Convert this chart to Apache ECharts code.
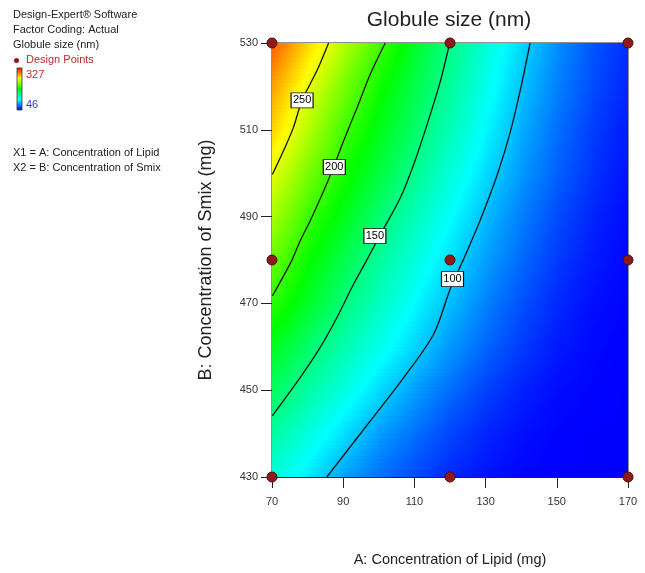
<!DOCTYPE html>
<html>
<head>
<meta charset="utf-8">
<script src="https://cdn.jsdelivr.net/npm/echarts@6/dist/echarts.min.js"></script>
<style>
html, body { margin: 0; padding: 0; background: #fff; }
#chart { width: 645px; height: 573px; }
</style>
</head>
<body>
<div id="chart"></div>
<script>
// factor levels
var lipid = [70, 80, 90, 100, 110, 120, 130, 140, 150, 160, 170];
var smix = [430, 440, 450, 460, 470, 480, 490, 500, 510, 520, 530];
var lipidTicks = [70, 90, 110, 130, 150, 170];
var smixTicks = [430, 450, 470, 490, 510, 530];

// globule size (nm), one row per smix level (430 -> 530)
var globuleSize = [
    [126, 111, 91, 77, 66, 57, 51, 47, 46, 46, 46],
    [143, 126, 108, 90, 77, 65, 56, 50, 47, 46, 46],
    [161, 142, 125, 107, 90, 76, 64, 55, 49, 47, 46],
    [179, 158, 139, 122, 105, 88, 74, 62, 53, 48, 46],
    [199, 176, 153, 134, 116, 98, 82, 68, 57, 50, 47],
    [215, 189, 166, 144, 126, 108, 90, 75, 62, 53, 48],
    [233, 203, 180, 156, 136, 117, 98, 81, 67, 56, 49],
    [250, 220, 193, 170, 148, 127, 107, 88, 73, 60, 51],
    [269, 237, 205, 181, 158, 136, 115, 94, 77, 63, 53],
    [283, 251, 220, 191, 167, 144, 122, 100, 82, 67, 56],
    [302, 269, 237, 206, 177, 150, 128, 106, 86, 70, 58]
];
var sizeMin = 46, sizeMax = 327;

// contour lines
var contour250 = [[70.1, 499.7], [73.2, 505.1], [76.0, 510.5], [78.4, 516.8], [80.7, 520.5], [83.0, 524.3], [85.9, 530]];
var contour200 = [[70.1, 471.7], [75.5, 479.8], [77.9, 484.4], [80.7, 489], [84.5, 495.9], [87.3, 501.4], [90.1, 507.4], [93.9, 515.1], [97.6, 522.8], [101.8, 530]];
var contour150 = [[70.1, 444.1], [77.9, 452.9], [83.5, 459.8], [88.2, 466.7], [92.9, 474.4], [96.5, 479.8], [100.2, 485.5], [106.1, 494.4], [109.8, 502], [113.6, 511.3], [117.3, 521.2], [119.9, 530]];
var contour100 = [[85.4, 430], [97.6, 442.9], [107, 452.9], [115.4, 462.9], [120.2, 473.6], [123.6, 479.8], [128.4, 489], [133.3, 499.7], [137.0, 509.7], [139.9, 519.7], [142.5, 530]];
var contourLabels = [[78.45, 516.8, '250'], [87.5, 501.4, '200'], [98.9, 485.5, '150'], [120.7, 475.6, '100']];

var designPoints = [
    [70, 430], [70, 480], [70, 530],
    [120, 430], [120, 480], [120, 530],
    [170, 430], [170, 480], [170, 530]
];

// colour ramp blue -> cyan -> green -> yellow -> red
var rampColors = [[0, 0, 255], [0, 255, 255], [0, 255, 0], [255, 255, 0], [255, 0, 0]];
function rampColor(v) {
    var t = (v - sizeMin) / (sizeMax - sizeMin);
    t = Math.max(0, Math.min(1, t)) * (rampColors.length - 1);
    var k = Math.min(Math.floor(t), rampColors.length - 2);
    var f = t - k;
    var a = rampColors[k], b = rampColors[k + 1];
    return 'rgb(' + Math.round(a[0] + (b[0] - a[0]) * f) + ',' +
        Math.round(a[1] + (b[1] - a[1]) * f) + ',' +
        Math.round(a[2] + (b[2] - a[2]) * f) + ')';
}

var cells = [];
for (var j = 0; j < smix.length - 1; j++) {
    for (var i = 0; i < lipid.length - 1; i++) {
        cells.push([lipid[i], smix[j], lipid[i + 1], smix[j + 1], i, j]);
    }
}

function renderCell(params, api) {
    var i = api.value(4), j = api.value(5);
    var p0 = api.coord([api.value(0), api.value(1)]);
    var p1 = api.coord([api.value(2), api.value(3)]);
    var v00 = globuleSize[j][i], v10 = globuleSize[j][i + 1];
    var v01 = globuleSize[j + 1][i], v11 = globuleSize[j + 1][i + 1];
    var rows = 12, steps = 8;
    var h = (p0[1] - p1[1]) / rows;
    var x0 = Math.floor(p0[0]), x1 = Math.ceil(p1[0]);
    var children = [];
    for (var r = 0; r < rows; r++) {
        var t = (r + 0.5) / rows;
        var vl = v00 + (v01 - v00) * t;
        var vr = v10 + (v11 - v10) * t;
        var stops = [];
        for (var s = 0; s <= steps; s++) {
            stops.push({ offset: s / steps, color: rampColor(vl + (vr - vl) * s / steps) });
        }
        var top = Math.floor(p0[1] - (r + 1) * h);
        var bottom = Math.ceil(p0[1] - r * h);
        children.push({
            type: 'rect',
            shape: { x: x0, y: top, width: x1 - x0, height: bottom - top },
            style: { fill: new echarts.graphic.LinearGradient(0, 0, 1, 0, stops), lineWidth: 0 }
        });
    }
    return { type: 'group', children: children };
}

function contourSeries(data) {
    return {
        type: 'line',
        data: data,
        smooth: 0.3,
        symbol: 'none',
        silent: true,
        z: 3,
        lineStyle: { color: '#151515', width: 1.3 }
    };
}

var textFont = 'Liberation Sans, Arial, sans-serif';

var myChart = echarts.init(document.getElementById('chart'));
var option = {
    animation: false,
    backgroundColor: '#fff',
    grid: {
        left: 272, top: 43, right: 17, bottom: 96,
        show: true, borderColor: '#222', borderWidth: 1, backgroundColor: 'transparent'
    },
    xAxis: {
        type: 'value',
        min: 70, max: 170, interval: 20,
        name: 'A: Concentration of Lipid (mg)',
        nameLocation: 'middle',
        nameGap: 75,
        nameTextStyle: { fontSize: 14.5, color: '#222', fontFamily: textFont },
        axisLine: { show: true, onZero: false, lineStyle: { color: '#222', width: 1 } },
        axisTick: { show: true, length: 11, lineStyle: { color: '#222' } },
        axisLabel: {
            margin: 19, fontSize: 11, color: '#333', fontFamily: textFont,
            formatter: function (v) { return lipidTicks.indexOf(v) >= 0 ? v : ''; }
        },
        splitLine: { show: false }
    },
    yAxis: {
        type: 'value',
        min: 430, max: 530, interval: 20,
        name: 'B: Concentration of Smix (mg)',
        nameLocation: 'middle',
        nameGap: 57,
        nameTextStyle: { fontSize: 18, color: '#222', fontFamily: textFont },
        axisLine: { show: true, onZero: false, lineStyle: { color: '#222', width: 1 } },
        axisTick: { show: true, length: 11, lineStyle: { color: '#222' } },
        axisLabel: {
            margin: 14, fontSize: 11, color: '#333', fontFamily: textFont,
            formatter: function (v) { return smixTicks.indexOf(v) >= 0 ? v : ''; }
        },
        splitLine: { show: false }
    },
    series: [
        {
            type: 'custom',
            data: cells,
            renderItem: renderCell,
            silent: true,
            z: 1
        },
        contourSeries(contour250),
        contourSeries(contour200),
        contourSeries(contour150),
        contourSeries(contour100),
        {
            type: 'scatter',
            data: contourLabels,
            symbol: 'rect',
            symbolSize: [22, 15],
            silent: true,
            clip: false,
            z: 4,
            itemStyle: { color: '#fff', borderColor: '#111', borderWidth: 1, opacity: 1 },
            label: {
                show: true, position: 'inside', color: '#000',
                fontSize: 11, fontFamily: textFont,
                formatter: function (p) { return p.value[2]; }
            }
        },
        {
            type: 'scatter',
            data: designPoints,
            symbolSize: 10,
            clip: false,
            silent: true,
            z: 5,
            itemStyle: { color: '#8e1b1b', borderColor: '#520808', borderWidth: 1, opacity: 1 }
        }
    ],
    graphic: [
        { type: 'text', x: 449, y: 20, style: { text: 'Globule size (nm)', font: '21px ' + textFont, fill: '#222', textAlign: 'center', textVerticalAlign: 'middle' } },
        { type: 'text', x: 13, y: 15, style: { text: 'Design-Expert® Software', font: '11px ' + textFont, fill: '#222', textVerticalAlign: 'middle' } },
        { type: 'text', x: 13, y: 30, style: { text: 'Factor Coding: Actual', font: '11px ' + textFont, fill: '#222', textVerticalAlign: 'middle' } },
        { type: 'text', x: 13, y: 45, style: { text: 'Globule size (nm)', font: '11px ' + textFont, fill: '#222', textVerticalAlign: 'middle' } },
        { type: 'circle', shape: { cx: 16.5, cy: 60.5, r: 2.5 }, style: { fill: '#8e1b1b' } },
        { type: 'text', x: 26, y: 60, style: { text: 'Design Points', font: '11px ' + textFont, fill: '#c0282c', textVerticalAlign: 'middle' } },
        {
            type: 'rect', shape: { x: 17, y: 68, width: 5, height: 42 },
            style: {
                fill: new echarts.graphic.LinearGradient(0, 0, 0, 1, [
                    { offset: 0, color: '#ff0000' }, { offset: 0.25, color: '#ffff00' },
                    { offset: 0.5, color: '#00ff00' }, { offset: 0.75, color: '#00ffff' },
                    { offset: 1, color: '#0000ff' }
                ]),
                stroke: '#333', lineWidth: 0.8
            }
        },
        { type: 'text', x: 26, y: 75, style: { text: '327', font: '11px ' + textFont, fill: '#c8282c', textVerticalAlign: 'middle' } },
        { type: 'text', x: 26, y: 105, style: { text: '46', font: '11px ' + textFont, fill: '#2c3cc8', textVerticalAlign: 'middle' } },
        { type: 'text', x: 13, y: 153, style: { text: 'X1 = A: Concentration of Lipid', font: '11px ' + textFont, fill: '#222', textVerticalAlign: 'middle' } },
        { type: 'text', x: 13, y: 168, style: { text: 'X2 = B: Concentration of Smix', font: '11px ' + textFont, fill: '#222', textVerticalAlign: 'middle' } }
    ]
};
myChart.setOption(option);
</script>
</body>
</html>
